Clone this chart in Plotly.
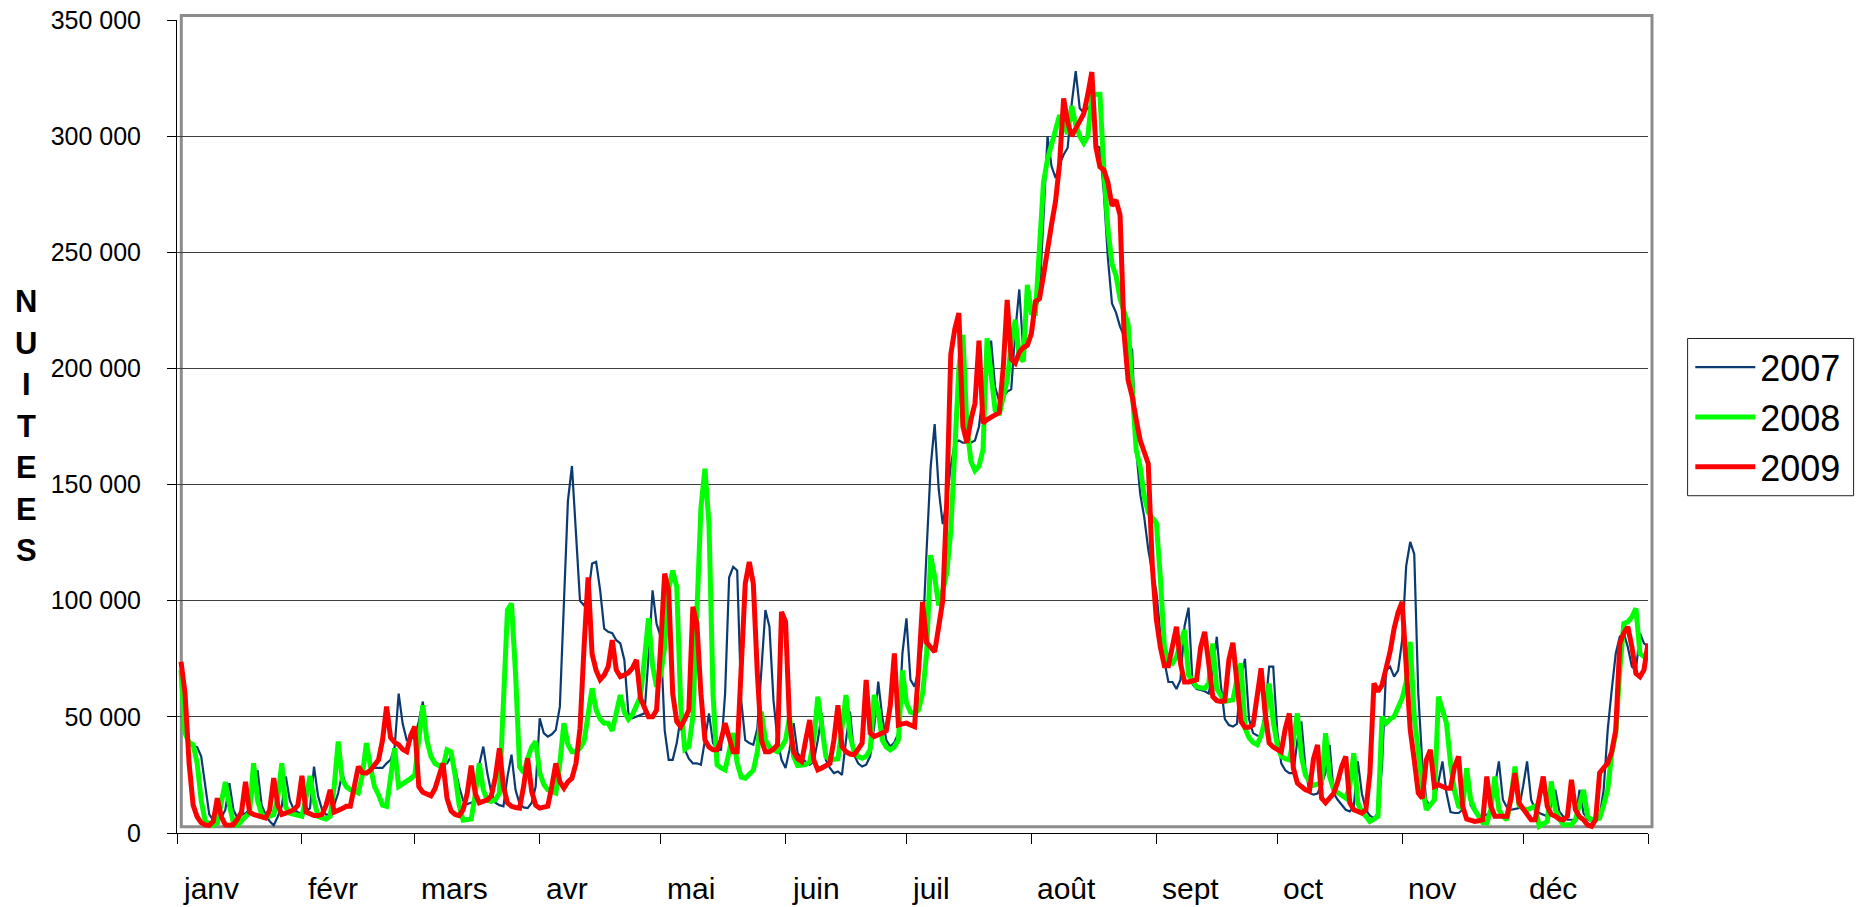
import plotly.graph_objects as go

# ---------------- data (nuitées, in thousands, one value per day) ----------------
months = ["janv", "févr", "mars", "avr", "mai", "juin", "juil", "août", "sept", "oct", "nov", "déc"]
month_starts = [0, 31, 59, 90, 120, 151, 181, 212, 243, 273, 304, 334, 365]
years = ["2007", "2008", "2009"]
y_ticks = [0, 50000, 100000, 150000, 200000, 250000, 300000, 350000]

nuitees_2007_k = [
    70, 43, 38, 37.5, 37, 33, 20, 8, 5.5, 5,
    6.5, 10, 21.5, 10, 6.4, 7.9, 8.5, 10, 20, 27,
    12, 7.9, 5, 3.3, 7, 11.5, 24.3, 14, 10, 9,
    7.9, 9, 10.7, 28.6, 16, 10, 7.9, 7.9, 12, 17.2,
    25.8, 20, 18.6, 18.6, 18.6, 25, 34.4, 30, 28, 28,
    28, 30, 31.5, 37, 60, 47, 40, 40.5, 41.5, 48,
    56.6, 40, 34.4, 30, 29.5, 29.4, 30, 33, 28, 20,
    14, 12.5, 13, 13.6, 29.4, 37.2, 25.8, 17.2, 13, 12,
    11.5, 24.3, 33.7, 18.6, 12.5, 11, 10.7, 12.9, 20, 49.4,
    43, 41.5, 42.5, 44.4, 54.4, 97.4, 143, 158, 129, 100,
    98, 102, 116, 116.7, 104.5, 88, 86.6, 86, 83, 81.6,
    74.5, 51.5, 49.4, 50, 50.8, 51.5, 75.9, 104.5, 90, 84.5,
    44.4, 31.5, 31.5, 38.7, 50, 36, 32, 30, 30, 29.4,
    40, 51.5, 38.7, 36, 35.8, 60, 110, 114.6, 113, 57,
    40, 38.7, 38, 45, 70, 96, 88.8, 57.3, 40, 31.5,
    28, 36, 47.3, 34.4, 32, 30.5, 29.4, 30.8, 40, 51.5,
    31.5, 28, 25.8, 26.5, 25, 40, 52.3, 33.7, 30, 28.6,
    29.4, 33, 45.8, 65.2, 50, 40, 37.2, 39, 43, 77.3,
    92.4, 65.9, 63, 70.2, 83, 121.7, 157.5, 176, 148, 133,
    143, 158, 168, 169, 168, 168, 168, 169, 175, 190,
    198, 212, 192, 186, 188, 190, 191, 216, 234, 207,
    210, 215, 225, 231, 265, 300, 287, 282, 288, 292,
    295, 314, 328, 312, 310, 312, 314, 296, 295, 275,
    247, 228, 224, 218, 214, 211, 208, 165, 146, 136,
    122, 112, 104, 86, 74, 65, 65, 62, 66, 89,
    97, 64, 62, 61.6, 61, 60, 70, 84.5, 64, 49,
    46.5, 45.8, 47, 67, 75, 49, 43, 42, 41.5, 53,
    71.6, 71.6, 44, 30, 27, 25.8, 25.8, 40, 48, 28,
    17.2, 16.5, 17, 21, 26, 38, 17.2, 14.3, 12, 10,
    9.3, 11.5, 30.8, 17, 10, 7.5, 6.4, 8.6, 28.6, 70,
    71.6, 67.3, 70, 83, 115, 125.3, 120, 60, 30, 14,
    11.5, 15, 22, 30.8, 17.2, 9, 8.6, 8.6, 10, 27.9,
    12, 9, 7.2, 7.5, 7.9, 9, 20, 30.8, 14.3, 11,
    10, 10.5, 10.7, 20, 30.8, 14.3, 10, 8.6, 8, 7.2,
    12, 18.6, 9.3, 7, 5.7, 5.7, 5.7, 18.6, 8.6, 6,
    5, 6, 7.2, 18.6, 44.4, 61.6, 77.3, 84.5, 86, 80,
    71.6, 70.2, 86, 81.6, 80.2,
]

nuitees_2008_k = [
    70, 43, 39, 38, 30, 14, 5, 4, 3.3, 4.3,
    12, 22, 12, 4.3, 3.3, 5.5, 7, 8.6, 30, 14,
    8, 7.2, 7.2, 7.9, 15, 30, 11, 8.5, 8, 7.5,
    7.2, 15, 24.6, 14, 7.2, 6.5, 6, 7.2, 20, 39.4,
    23, 20, 18.6, 18, 17.2, 25, 38.7, 28.6, 20, 16.5,
    12, 11.5, 24, 36.5, 20, 21, 22, 23.5, 25, 40,
    55, 40, 33, 30, 29, 28, 35.8, 35, 25, 12,
    5.5, 5.7, 6, 16.5, 30, 18.6, 14, 13.6, 14.3, 17.2,
    60, 96, 98.8, 68.7, 28.6, 26, 32, 37, 39.4, 26,
    21, 18.6, 17.8, 17.2, 30, 47.3, 38, 35, 35, 36.5,
    39.4, 50, 62.3, 53, 49, 47.3, 47.3, 44, 52, 59.4,
    52, 49, 51, 54.4, 58.7, 75, 92.4, 72, 63, 68,
    80, 105, 113, 106, 54.4, 36, 37.2, 50, 100, 140,
    156.8, 133, 60, 29.4, 28, 27.2, 35, 43, 30, 24,
    23.6, 25, 27, 35, 52.3, 40, 37, 35.8, 35, 37,
    40, 50, 33, 29, 29, 29.4, 30.8, 40, 58.7, 45,
    33, 31.5, 31.5, 32, 45, 59.4, 42, 35, 33, 32.2,
    33, 36, 59.4, 53, 40, 37, 35.8, 37, 40, 70,
    56, 52, 51.5, 53, 60, 77.3, 119.6, 110.3, 98, 104,
    112, 130, 165, 200, 214.5, 175, 160, 156, 158, 165,
    213, 195, 182, 180, 188, 195, 210, 221, 205, 203,
    236, 224, 223.8, 250, 280, 290, 297, 303, 309, 305,
    301, 313, 305, 300, 297, 300, 317, 318, 318, 285,
    260, 245, 240, 230, 224, 219, 192, 165, 157.5, 145,
    138, 135.3, 133.5, 110, 80, 74, 73, 75.9, 82, 87.4,
    68, 65, 63, 62.5, 62.3, 64.4, 81.6, 62, 59, 56.6,
    57, 57.3, 66, 73, 45, 41, 39, 38, 42, 48.7,
    64.4, 48, 38, 33, 32, 31.5, 40, 51.5, 33, 25,
    22.2, 20.5, 21, 21.5, 43, 24.3, 18.6, 17.5, 16.5, 15,
    20, 34.4, 12.9, 9, 7.2, 5, 6, 7.2, 50, 47.3,
    49, 50.1, 54, 58, 65, 82.3, 50, 35, 20, 10,
    12, 14.3, 58.7, 53, 47.3, 30, 18, 11.5, 10.7, 27.9,
    14.3, 10, 7.2, 4.5, 4.3, 10, 24.3, 10, 7.2, 5.7,
    15, 28.6, 12, 10.5, 10, 11, 11.5, 2.9, 4, 5,
    22.2, 10, 6, 3.6, 3.6, 3.6, 5.7, 12, 18.6, 7.2,
    5.7, 6, 6.4, 12, 18.6, 34.4, 43, 70, 90.2, 90.9,
    93, 96.7, 77.3, 76, 75.9,
]

nuitees_2009_k = [
    73.7, 60, 30, 12, 7, 4.5, 3.5, 3.3, 5, 15,
    7, 3.5, 3.3, 3.6, 6, 9, 22, 9, 8, 7.5,
    7, 6.5, 10, 23.6, 12, 8, 8.5, 9, 10, 12,
    24.6, 9, 8, 7.5, 7.5, 8, 12, 18.6, 9, 9.5,
    10.5, 11.5, 11.5, 20, 28.6, 26, 25.8, 27, 29, 31.5,
    40, 54.4, 41, 39, 38, 36, 35, 42, 45.8, 20,
    17.5, 16.8, 16, 19, 25, 30, 15, 9.5, 8, 7.5,
    10, 17, 29, 17, 13, 13.5, 14.3, 16, 24, 36.5,
    20, 13, 11.5, 11, 10.7, 20, 32.2, 18, 12, 10.7,
    11, 11.5, 20, 30, 22, 19.3, 22, 23.6, 30, 45,
    80, 110, 77, 70, 66, 68, 71.6, 83, 70.2, 67.3,
    68, 69, 71, 74.5, 58, 54.4, 50, 50, 53, 80,
    111.7, 104.5, 60, 48, 45.8, 49, 53, 97.4, 90, 60,
    40, 37, 35.8, 35.8, 40, 47.3, 40, 35, 35, 68.7,
    107.4, 116.7, 107.4, 68.7, 40, 35, 35, 36, 38, 95.2,
    91, 47.3, 35, 32, 30.8, 40, 48.7, 31.5, 27.2, 28,
    29, 30, 40, 55, 37.2, 35, 34, 33.7, 36, 38.7,
    65.9, 43, 41.5, 42, 43, 44, 55, 77.3, 46.5, 47,
    47.3, 46.5, 45.8, 70, 99.5, 82, 80.2, 78, 88.8, 100,
    143, 206, 217, 223.8, 175, 168, 178, 185, 212, 176.5,
    178, 179, 180, 181, 200, 229.5, 204, 202.3, 207, 209,
    210, 215, 228.8, 230, 240, 249.6, 262, 272, 288.3, 316.2,
    306, 300, 303, 306, 309.7, 318, 327.6, 295.4, 286.8, 285.4,
    280, 270, 272.5, 266, 215, 195, 188, 178, 169, 164,
    159, 115, 92, 80, 72, 72, 80, 88.8, 73, 65,
    65, 65.5, 66, 80, 86.6, 73, 58.7, 57, 56.6, 57,
    74.5, 81.9, 64.4, 48, 45.5, 45.5, 46.5, 60, 70.9, 51.5,
    38.7, 37, 36, 35, 45, 51.5, 28, 21.5, 20, 18.6,
    18, 32, 37.9, 15, 13, 15, 17, 22, 28.6, 33,
    13, 10, 9.5, 8.6, 10, 25.8, 64.4, 61, 63.7, 70,
    78, 88, 95, 99.5, 72, 44.4, 31.5, 17.2, 15, 31.5,
    35.8, 20, 20.8, 20, 19.3, 19.3, 28.6, 33, 11.5, 6,
    5.5, 5, 5.3, 5.7, 24.3, 11.5, 7.2, 7.2, 7.2, 7.2,
    15, 25.8, 12.9, 10.7, 8, 5.7, 5.7, 15, 24.3, 11.5,
    8, 7.2, 6, 5.7, 7.2, 22.9, 10, 7, 5.7, 3.5,
    2.9, 5.7, 25.8, 28, 30, 35, 44.4, 81.6, 86, 88.8,
    80.2, 68.7, 67.3, 70.2, 81.6,
]

series_k = [nuitees_2007_k, nuitees_2008_k, nuitees_2009_k]
colors = ["#0b3a70", "#00ff00", "#ff0000"]
widths = [2.2, 5, 5]

# ---------------- figure ----------------
W, H = 1860, 907
L, R, T, B = 176.7, 212.3, 19.5, 73.7
PW, PH = W - L - R, H - T - B
FONT = "Liberation Sans, Arial, sans-serif"


def px_to_paper_x(px):
    return (px - L) / PW


def px_to_paper_y(py):
    return (H - B - py) / PH


fig = go.Figure()
for name, vals, c, w in zip(years, series_k, colors, widths):
    days = list(range(1, len(vals) + 1))
    fig.add_trace(go.Scatter(
        x=days, y=[v * 1000 for v in vals], mode="lines", name=name,
        line=dict(color=c, width=w),
    ))

# plot-area frame (grey, as in the original)
fig.add_shape(type="rect", xref="paper", yref="paper",
              x0=px_to_paper_x(181), x1=px_to_paper_x(1651.7),
              y0=px_to_paper_y(827), y1=px_to_paper_y(15),
              line=dict(color="#8c8c8c", width=3), layer="below")
# legend frame
fig.add_shape(type="rect", xref="paper", yref="paper",
              x0=px_to_paper_x(1687.3), x1=px_to_paper_x(1853.3),
              y0=px_to_paper_y(495.7), y1=px_to_paper_y(338.3),
              line=dict(color="#222222", width=1), fillcolor="white", layer="below")

annotations = []
# month labels (left aligned just after each month tick)
for m, start in zip(months, month_starts[:-1]):
    annotations.append(dict(
        x=start, xref="x", y=px_to_paper_y(889), yref="paper",
        text=m, showarrow=False, xanchor="left", yanchor="middle", xshift=4,
        font=dict(family=FONT, size=30, color="black"),
    ))
# vertical stacked axis title
title_letters = list("NUITEES")
for k, ch in enumerate(title_letters):
    annotations.append(dict(
        x=px_to_paper_x(26), xref="paper", y=px_to_paper_y(301.5 + 41.5 * k), yref="paper",
        text="<b>%s</b>" % ch, showarrow=False, xanchor="center", yanchor="middle",
        font=dict(family=FONT, size=31, color="black"),
    ))

fig.update_layout(
    width=W, height=H,
    margin=dict(l=L, r=R, t=T, b=B, pad=0, autoexpand=False),
    paper_bgcolor="white", plot_bgcolor="white",
    separators=", ",
    font=dict(family=FONT, color="black"),
    showlegend=True,
    legend=dict(
        x=px_to_paper_x(1690), y=px_to_paper_y(337), xanchor="left", yanchor="top",
        bgcolor="rgba(0,0,0,0)", borderwidth=0,
        font=dict(family=FONT, size=36, color="black"),
        itemwidth=60, tracegroupgap=0,
    ),
    annotations=annotations,
)
fig.update_xaxes(
    range=[0, 365], tickmode="array", tickvals=month_starts, showticklabels=False,
    ticks="outside", ticklen=10, tickcolor="black", tickwidth=1,
    showline=True, linecolor="black", linewidth=1,
    showgrid=False, zeroline=False, automargin=False,
)
fig.update_yaxes(
    range=[0, 350000], tickmode="array", tickvals=y_ticks, tickformat=",d",
    ticks="outside", ticklen=9, tickcolor="black", tickwidth=1,
    showline=True, linecolor="black", linewidth=1,
    showgrid=True, gridcolor="#404040", gridwidth=1, zeroline=False,
    tickfont=dict(family=FONT, size=25, color="black"),
    ticklabelstandoff=21, automargin=False,
)

fig.write_html("out.html", config={"displayModeBar": False},
               post_script="document.body.style.margin='0px';")
